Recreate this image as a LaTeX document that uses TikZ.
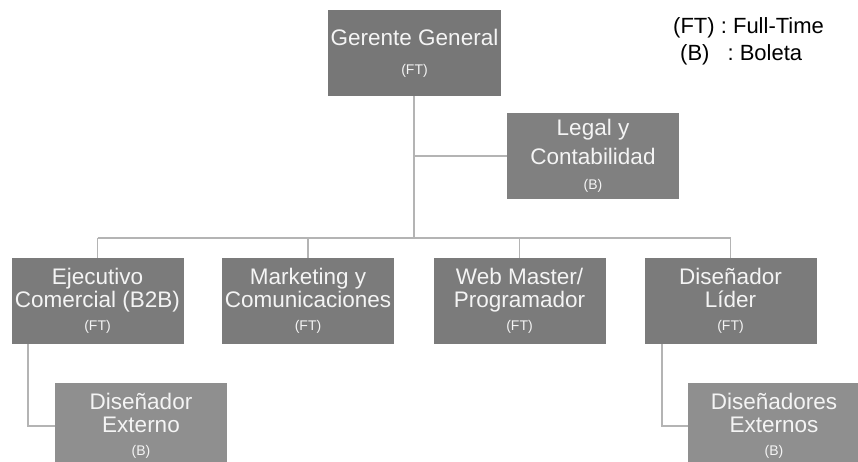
\documentclass[tikz,border=0pt]{standalone}
\usepackage{fontspec}
\setmainfont{Liberation Sans}
\definecolor{topgray}{HTML}{777777}
\definecolor{sidegray}{HTML}{808080}
\definecolor{rowgray}{HTML}{7B7B7B}
\definecolor{extgray}{HTML}{8F8F8F}
\definecolor{linegray}{HTML}{B4B4B4}
\definecolor{labelwhite}{HTML}{F4F4F4}
\newcommand{\roletag}[1]{{\fontsize{14}{15}\selectfont #1}}
\tikzset{
  orgbox/.style={fill=rowgray, minimum width=172pt, minimum height=86pt,
    inner sep=0pt, text=labelwhite, align=center,
    font=\fontsize{22.5}{23}\selectfont},
  link/.style={draw=linegray, line width=1.3pt},
  legend/.style={anchor=west, inner sep=0pt, text=black,
    font=\fontsize{22}{24}\selectfont}
}
\begin{document}
\begin{tikzpicture}[x=1pt,y=1pt]
  \useasboundingbox (0,0) rectangle (858,462);

  % boxes
  \node[orgbox, fill=topgray, minimum width=173pt] (gg) at (414.5,409)
    {Gerente General\\[6pt]\roletag{(FT)}};
  \node[orgbox, fill=sidegray] (legal) at (593,306)
    {Legal y\\[6pt]Contabilidad\\[2pt]\roletag{(B)}};
  \node[orgbox] (ejec) at (97.5,161)
    {Ejecutivo\\Comercial (B2B)\\\roletag{(FT)}};
  \node[orgbox] (mkt) at (308,161)
    {Marketing y\\Comunicaciones\\\roletag{(FT)}};
  \node[orgbox] (web) at (519.5,161)
    {Web Master/\\Programador\\\roletag{(FT)}};
  \node[orgbox] (lider) at (730.5,161)
    {Diseñador\\Líder\\\roletag{(FT)}};
  \node[orgbox, fill=extgray] (ext1) at (141,36)
    {Diseñador\\Externo\\\roletag{(B)}};
  \node[orgbox, fill=extgray] (ext2) at (774,36)
    {Diseñadores\\Externos\\\roletag{(B)}};

  % legend
  \node[legend] (lg1) at (673,434) {(FT) : Full-Time};
  \node[legend] (lg2) at (680,407) {(B)\hspace{18pt}: Boleta};

  % connectors
  \coordinate (bus) at (414,224);
  \coordinate (bl) at (ejec.north |- bus);
  \coordinate (br) at (lider.north |- bus);
  \draw[link] (gg.south -| bus) -- (bus);
  \draw[link] (bus |- legal.west) -- (legal.west);
  \draw[link] (bl) -- (br);
  \draw[link] (bl) -- (ejec.north);
  \draw[link] (mkt.north |- bus) -- (mkt.north);
  \draw[link] (web.north |- bus) -- (web.north);
  \draw[link] (br) -- (lider.north);
  \coordinate (e1) at (28,0);
  \coordinate (e2) at (662,0);
  \draw[link] (e1 |- ejec.south) -- (e1 |- ext1.west) -- (ext1.west);
  \draw[link] (e2 |- lider.south) -- (e2 |- ext2.west) -- (ext2.west);
\end{tikzpicture}
\end{document}
